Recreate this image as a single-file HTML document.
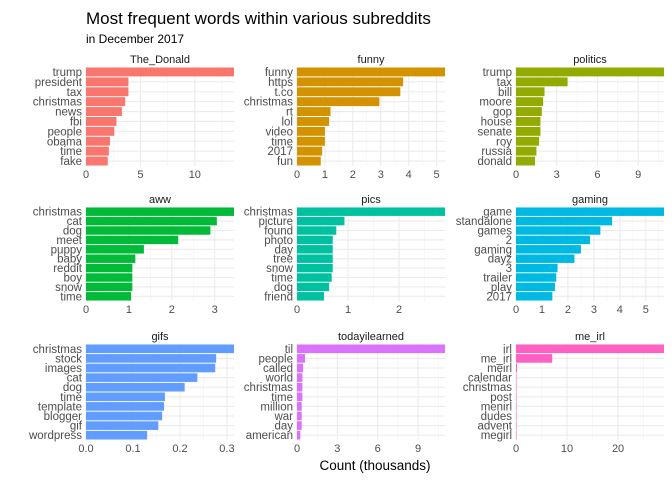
<!DOCTYPE html>
<html><head><meta charset="utf-8"><style>
body{margin:0;background:#fff;}
svg{font-family:"Liberation Sans",sans-serif;display:block;}
</style></head><body>
<svg id="c" width="672" height="480">
<text x="86" y="24" font-size="17" fill="#000">Most frequent words within various subreddits</text>
<text x="86" y="43" font-size="12" fill="#000">in December 2017</text>
<text x="375" y="470" font-size="13.5" fill="#000" text-anchor="middle">Count (thousands)</text>
</svg>
<script>
const subreddits=["The_Donald","funny","politics","aww","pics","gaming","gifs","todayilearned","me_irl"];
const colors=["#F8766D","#D39200","#93AA00","#00BA38","#00C19F","#00B9E3","#619CFF","#DB72FB","#FF61C3"];
const words=[
["trump","president","tax","christmas","news","fbi","people","obama","time","fake"],
["funny","https","t.co","christmas","rt","lol","video","time","2017","fun"],
["trump","tax","bill","moore","gop","house","senate","roy","russia","donald"],
["christmas","cat","dog","meet","puppy","baby","reddit","boy","snow","time"],
["christmas","picture","found","photo","day","tree","snow","time","dog","friend"],
["game","standalone","games","2","gaming","dayz","3","trailer","play","2017"],
["christmas","stock","images","cat","dog","time","template","blogger","gif","wordpress"],
["til","people","called","world","christmas","time","million","war","day","american"],
["irl","me_irl","meirl","calendar","christmas","post","menirl","dudes","advent","megirl"]];
const counts=[
[13.6,3.9,3.9,3.6,3.3,2.8,2.6,2.2,2.1,2.0],
[5.3,3.8,3.7,2.95,1.2,1.15,1.0,1.0,0.9,0.85],
[10.9,3.8,2.1,2.0,1.9,1.8,1.8,1.7,1.5,1.4],
[3.45,3.05,2.9,2.15,1.35,1.15,1.08,1.08,1.08,1.05],
[2.9,0.93,0.77,0.7,0.7,0.7,0.7,0.68,0.63,0.53],
[5.7,3.7,3.25,2.85,2.5,2.25,1.6,1.55,1.5,1.4],
[0.315,0.277,0.275,0.237,0.21,0.168,0.166,0.162,0.154,0.13],
[11,0.6,0.45,0.4,0.4,0.4,0.35,0.35,0.35,0.25],
[29,7.1,0.2,0.1,0.1,0.1,0.1,0.1,0.1,0.1]];
const ticks=[[0,5,10],[0,1,2,3,4,5],[0,3,6,9],[0,1,2,3],[0,1,2],[0,1,2,3,4,5],[0,0.1,0.2,0.3],[0,3,6,9],[0,10,20]];
const tickLabels=[["0","5","10"],["0","1","2","3","4","5"],["0","3","6","9"],["0","1","2","3"],["0","1","2"],["0","1","2","3","4","5"],["0.0","0.1","0.2","0.3"],["0","3","6","9"],["0","10","20"]];
const colX=[86,297,516], colW=148;
const rowY=[67,207,344], rowH=[99,94,96];
const NS="http://www.w3.org/2000/svg";
const svg=document.getElementById('c');
function mk(tag,attrs,parent){const e=document.createElementNS(NS,tag);for(const k in attrs)e.setAttribute(k,attrs[k]);(parent||svg).appendChild(e);return e;}
subreddits.forEach((s,i)=>{
  const x0=colX[i%3], y0=rowY[Math.floor(i/3)], h=rowH[Math.floor(i/3)];
  const max=Math.max(...counts[i]);
  const xs=v=>x0+v/max*colW;
  const g=mk('g',{});
  
  
  const t=ticks[i], step=t[1]-t[0];
  for(let v=step/2; v<=max; v+=step){const gl=mk('line',{x1:xs(v),x2:xs(v),y1:y0,y2:y0+h,stroke:'#f2f2f2','stroke-width':0.6},g);}
  t.forEach((v,j)=>{
    const gl=mk('line',{x1:xs(v),x2:xs(v),y1:y0,y2:y0+h,stroke:'#ebebeb','stroke-width':1.1},g);
    
    const tl=mk('text',{x:xs(v),y:y0+h+12,'font-size':11,fill:'#4d4d4d','text-anchor':'middle'},g);
    tl.textContent=tickLabels[i][j];
    
  });
  const band=h/10;
  for(let k=0;k<10;k++){const yc=y0+band*(k+0.5);const gl=mk('line',{x1:x0,x2:x0+colW,y1:yc,y2:yc,stroke:'#ebebeb','stroke-width':1.1},g);}
  counts[i].forEach((v,k)=>{
    const yc=y0+band*(k+0.5);
    const r=mk('rect',{x:x0,y:yc-band*0.45,width:Math.max(0,xs(v)-x0),height:band*0.9,fill:colors[i]},g);
    
    const l=mk('text',{x:x0-4,y:yc+4,'font-size':11.5,fill:'#4d4d4d','text-anchor':'end'},g);
    l.textContent=words[i][k];
    
  });
  const st=mk('text',{x:x0+colW/2,y:y0-4,'font-size':11,fill:'#1a1a1a','text-anchor':'middle'},g);
  st.textContent=s;
  
});
</script>
</body></html>
